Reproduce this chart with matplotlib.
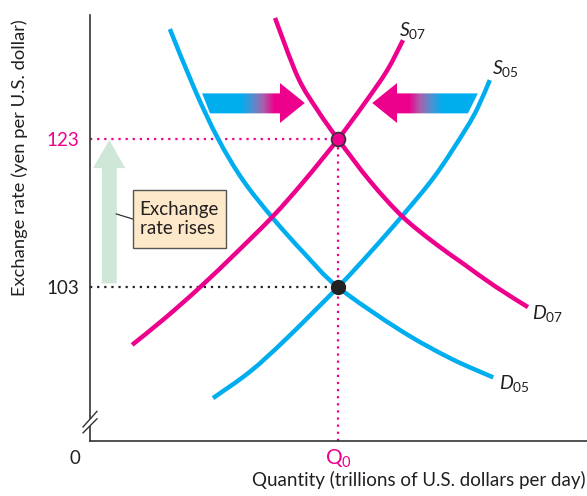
import numpy as np
import matplotlib.pyplot as plt
from matplotlib.patches import Polygon, Rectangle, PathPatch
from matplotlib.path import Path
from matplotlib.colors import LinearSegmentedColormap

plt.rcParams['font.family'] = ['Lato', 'DejaVu Sans']
plt.rcParams['mathtext.fontset'] = 'custom'
plt.rcParams['mathtext.rm'] = 'Lato'
plt.rcParams['mathtext.it'] = 'Lato:italic'

# curves (quantity, yen per dollar)
d05_q = [16.1, 21.2, 25.8, 30.8, 36.9, 43.3, 50.0, 62.5, 72.6, 81.3]
d05_r = [137.9, 129.6, 123.1, 117.5, 112.3, 107.5, 103.0, 97.2, 93.4, 90.8]
s05_q = [24.8, 32.3, 39.7, 50.0, 56.5, 62.9, 69.6, 75.6, 78.2, 80.6]
s05_r = [88.0, 91.6, 96.1, 103.0, 107.7, 112.6, 118.1, 124.2, 127.3, 131.0]
s07_q = [8.5, 15.1, 22.2, 29.4, 36.9, 43.1, 50.0, 55.4, 59.9, 63.1]
s07_r = [95.2, 98.8, 103.0, 107.6, 112.6, 117.3, 123.0, 127.9, 132.3, 136.4]
d07_q = [37.3, 41.9, 46.0, 50.0, 56.5, 62.9, 69.2, 75.2, 81.7, 88.3]
d07_r = [139.4, 131.4, 126.8, 123.0, 117.3, 112.6, 109.1, 106.2, 103.1, 100.3]

q0 = 50.0
rate_05 = 103
rate_07 = 123
ytick_vals = [103, 123]

cyan = '#00aeef'
pink = '#ec008c'
dark = '#333333'
txt = '#231f20'

fig = plt.figure(figsize=(5.87, 4.96), dpi=100)
ax = fig.add_axes([90/587, 55/496, 497/587, 426/496])
xlim = (0, 100.2)
ylim = (82.2, 139.8)

for sp in ['top', 'right']:
    ax.spines[sp].set_visible(False)
for sp in ['left', 'bottom']:
    ax.spines[sp].set_color(dark)
    ax.spines[sp].set_linewidth(1.2)


def smooth_curve(qs, rs, color):
    # bezier path through the read points (catmull-rom handles)
    p = np.column_stack([qs, rs])
    verts = [tuple(p[0])]
    codes = [Path.MOVETO]
    for i in range(len(p) - 1):
        p0 = p[i - 1] if i > 0 else p[i]
        p3 = p[i + 2] if i + 2 < len(p) else p[i + 1]
        c1 = p[i] + (p[i + 1] - p0) / 6
        c2 = p[i + 1] - (p3 - p[i]) / 6
        verts += [tuple(c1), tuple(c2), tuple(p[i + 1])]
        codes += [Path.CURVE4] * 3
    ax.add_patch(PathPatch(Path(verts, codes), facecolor='none', edgecolor=color,
                           lw=3.2, capstyle='butt', zorder=2))


# dotted guide lines
ax.plot([0, q0], [rate_07, rate_07], color=pink, lw=1.6, ls=(0, (1, 2.2)))
ax.plot([q0, q0], [ylim[0], rate_07], color=pink, lw=1.6, ls=(0, (1, 2.2)))
ax.plot([0, q0], [rate_05, rate_05], color='#222222', lw=1.6, ls=(0, (1, 2.2)))

# curves
smooth_curve(d05_q, d05_r, cyan)
smooth_curve(s05_q, s05_r, cyan)
smooth_curve(s07_q, s07_r, pink)
smooth_curve(d07_q, d07_r, pink)

# equilibrium points
ax.plot([q0], [rate_07], 'o', ms=10, mfc=pink, mec=dark, mew=1.2, zorder=5)
ax.plot([q0], [rate_05], 'o', ms=10, mfc='#222222', mec='#222222', zorder=5)

# gradient arrows
cmap_r = LinearSegmentedColormap.from_list('cm', [cyan, cyan, '#4a93d3', '#a861ac', pink, pink],
                                           N=256)


def grad_arrow(pts, x0, x1, g0, g1):
    poly = Polygon(pts, closed=True, facecolor='none', edgecolor='none')
    ax.add_patch(poly)
    xs = np.linspace(x0, x1, 300)
    t = np.clip((xs - g0) / (g1 - g0), 0, 1)
    ys = [p[1] for p in pts]
    im = ax.imshow(t[None, :], extent=[x0, x1, min(ys), max(ys)], cmap=cmap_r,
                   vmin=0, vmax=1, aspect='auto', origin='lower', zorder=3,
                   interpolation='bilinear')
    im.set_clip_path(poly)


left_pts = [(22.6, 129.2), (38.3, 129.2), (38.3, 130.6), (43.3, 127.9),
            (38.3, 125.2), (38.3, 126.5), (24.2, 126.5)]
grad_arrow(left_pts, 22.6, 43.3, 28.0, 39.5)
right_pts = [(78.2, 129.2), (61.9, 129.2), (61.9, 130.6), (56.9, 127.9),
             (61.9, 125.2), (61.9, 126.5), (76.2, 126.5)]
grad_arrow(right_pts, 56.9, 78.2, 73.5, 62.0)

# green arrow
green_pts = [(2.4, 103.5), (5.4, 103.5), (5.4, 119.1), (7.1, 119.1),
             (3.9, 122.9), (0.6, 119.1), (2.4, 119.1)]
ax.add_patch(Polygon(green_pts, closed=True, facecolor='#cfe7d7', edgecolor='none', zorder=2))

# callout box
ax.plot([5.3, 8.7], [112.9, 112.2], color=dark, lw=0.9, zorder=4)
ax.add_patch(Rectangle((8.7, 108.3), 18.7, 7.9, facecolor='#fde9c9', edgecolor='#555555',
                       lw=1.0, zorder=4))
ax.text(10.0, 112.25, 'Exchange\nrate rises', fontsize=13.5, color=txt,
        va='center', ha='left', linespacing=1.15, zorder=5)

# curve labels
ax.text(62.3, 137.7, r'$S_{\mathrm{07}}$', fontsize=14, va='center', ha='left', color=txt)
ax.text(81.0, 132.6, r'$S_{\mathrm{05}}$', fontsize=14, va='center', ha='left', color=txt)
ax.text(89.1, 99.5, r'$D_{\mathrm{07}}$', fontsize=14, va='center', ha='left', color=txt)
ax.text(82.5, 90.0, r'$D_{\mathrm{05}}$', fontsize=14, va='center', ha='left', color=txt)

# axes ticks and labels
ax.set_xlim(*xlim)
ax.set_ylim(*ylim)
ax.set_yticks(ytick_vals)
ax.set_yticklabels([str(v) for v in ytick_vals], fontsize=13.5)
ax.get_yticklabels()[1].set_color(pink)
ax.get_yticklabels()[0].set_color(txt)
ax.tick_params(axis='y', length=0, pad=8)
ax.set_xticks([q0])
ax.set_xticklabels([r'$\mathrm{Q}_{\mathrm{0}}$'], fontsize=15, color=pink)
ax.tick_params(axis='x', length=0, pad=5)

ax.text(-3.0, ylim[0] - 1.2, '0', fontsize=13.5, ha='center', va='top', color=txt)
ax.set_ylabel('Exchange rate (yen per U.S. dollar)', fontsize=13.2, color=txt)
ax.yaxis.set_label_coords(-0.125, 0.665)
fig.text(0.998, 0.014, 'Quantity (trillions of U.S. dollars per day)', fontsize=13.5,
         ha='right', va='bottom', color=txt)

# axis break
ax.add_patch(Polygon([(-1.4, 84.1), (1.4, 86.2), (1.4, 85.2), (-1.4, 83.3)], closed=True,
                     facecolor='white', edgecolor='none', clip_on=False, zorder=6))
ax.plot([-1.4, 1.4], [84.1, 86.2], color=dark, lw=1.0, clip_on=False, zorder=7)
ax.plot([-1.4, 1.4], [83.3, 85.2], color=dark, lw=1.0, clip_on=False, zorder=7)

fig.savefig('out.png', dpi=100)
